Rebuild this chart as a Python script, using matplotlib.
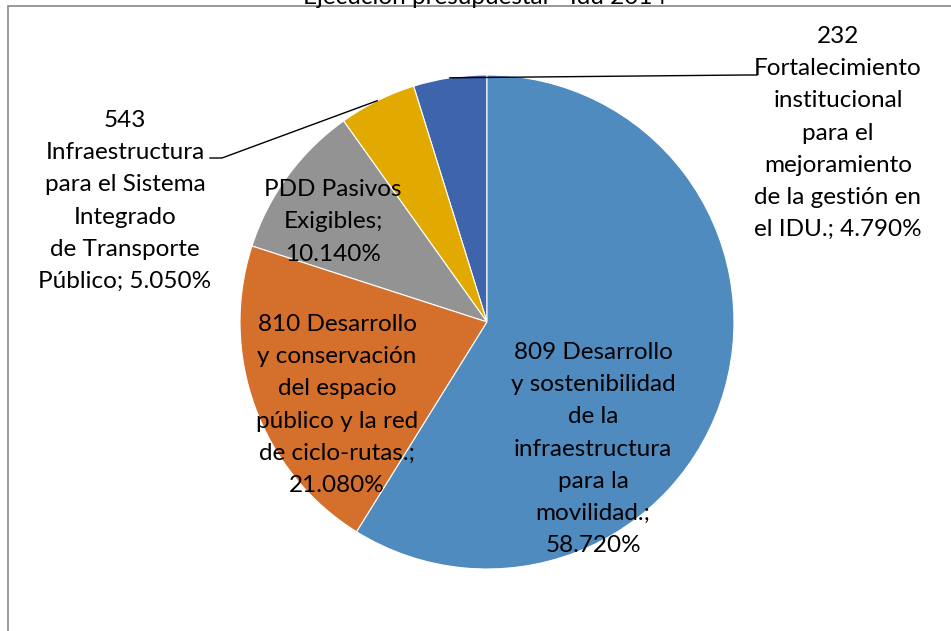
import numpy as np
import matplotlib.pyplot as plt
from matplotlib.patches import Rectangle

plt.rcParams['font.family'] = ['Lato', 'DejaVu Sans']

title = 'Ejecución presupuestal - Idu 2014'
labels = ['232\nFortalecimiento\ninstitucional\npara el\nmejoramiento\nde la gestión en\nel IDU.',
          '543\nInfraestructura\npara el Sistema\nIntegrado\nde Transporte\nPúblico',
          'PDD Pasivos\nExigibles',
          '810 Desarrollo\ny conservación\ndel espacio\npúblico y la red\nde ciclo-rutas.',
          '809 Desarrollo\ny sostenibilidad\nde la\ninfraestructura\npara la\nmovilidad.']
seps = ['; ', '; ', ';\n', ';\n', ';\n']
values = [4.79, 5.05, 10.14, 21.08, 58.72]
colors = ['#3E65AB', '#E2A900', '#939393', '#D46F2C', '#508BBF']

W, H = 951, 631
fig = plt.figure(figsize=(W / 100, H / 100), dpi=100)
ax = fig.add_axes([0, 0, 1, 1])

cx, cy, r = 487, H - 322, 247
wedges, _ = ax.pie(values, colors=colors, startangle=90, counterclock=True,
                   center=(cx, cy), radius=r, frame=True,
                   wedgeprops=dict(edgecolor='white', linewidth=0.8))
ax.set_xlim(0, W)
ax.set_ylim(0, H)
ax.set_aspect('auto')
ax.axis('off')

texts = [f'{l}{s}{v:.3f}%' for l, s, v in zip(labels, seps, values)]
pos = [(838, 133), (125, 201), (333, 222), (337, 405), (593, 449)]
for t, (x, y) in zip(texts, pos):
    ax.text(x, H - y, t, ha='center', va='center', fontsize=17.5,
            linespacing=1.65, color='black')

# leader lines for the two outside labels
ends = {0: [(745, 75), (757, 75)], 1: [(222, 158), (210, 158)]}
for i, pts in ends.items():
    w = wedges[i]
    a = np.deg2rad((w.theta1 + w.theta2) / 2)
    xs = [cx + r * np.cos(a)] + [p[0] for p in pts]
    ys = [cy + r * np.sin(a)] + [H - p[1] for p in pts]
    ax.plot(xs, ys, color='black', lw=1)

fig.patches.append(Rectangle((8 / W, -0.1), 1.1, 1 - 6 / H + 0.1,
                             transform=fig.transFigure, fill=False,
                             edgecolor='#868686', lw=1.2))
fig.text(485 / W, 1 - 4 / H, title, ha='center', va='baseline', fontsize=17.5)

fig.savefig('out.png', dpi=100)
